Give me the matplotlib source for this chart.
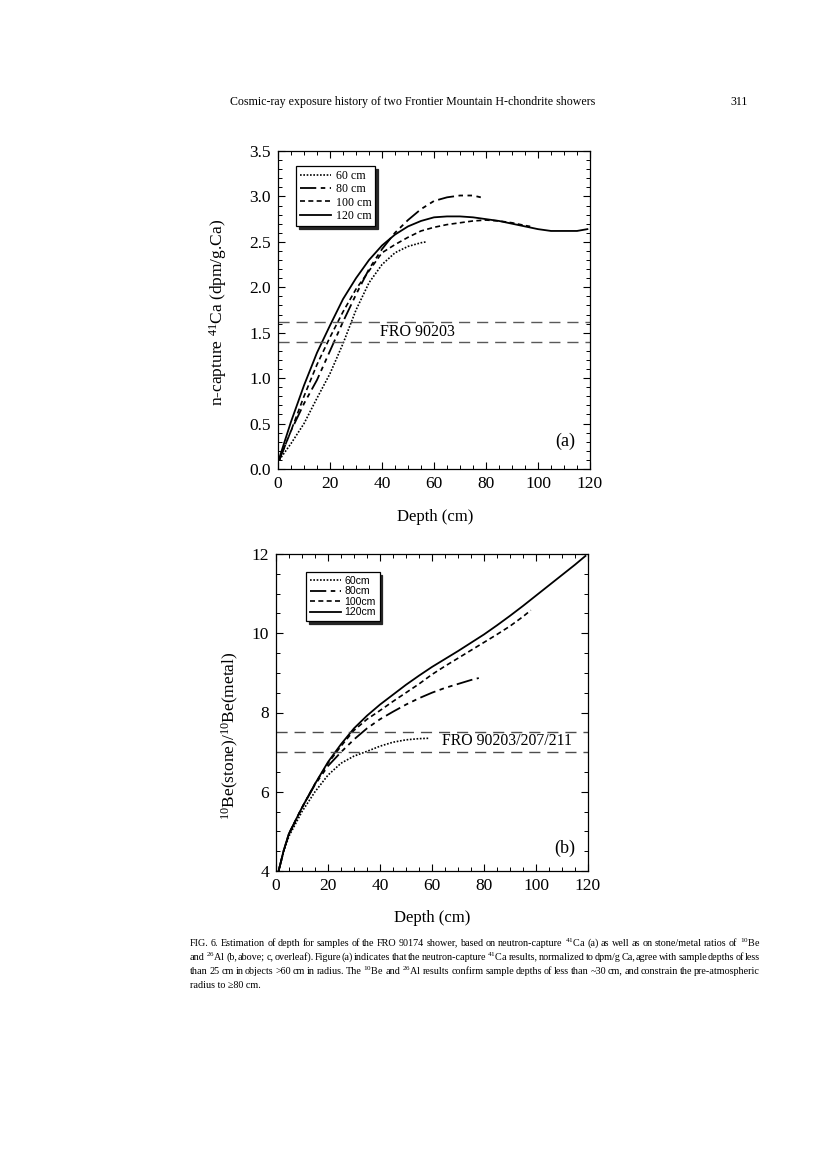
import matplotlib
matplotlib.use("Agg")
import matplotlib.pyplot as plt
from matplotlib.ticker import MultipleLocator, FormatStrFormatter

plt.rcParams['font.family'] = ['Liberation Serif', 'DejaVu Serif']
plt.rcParams['mathtext.fontset'] = 'custom'
plt.rcParams['mathtext.rm'] = 'Liberation Serif'
plt.rcParams['mathtext.it'] = 'Liberation Serif:italic'

# (a) n-capture 41Ca vs depth
a_d60 = [0.5, 5, 10, 15, 20, 25, 30, 35, 40, 45, 50, 55, 57]
a_y60 = [0.1, 0.28, 0.5, 0.78, 1.05, 1.38, 1.75, 2.05, 2.25, 2.38, 2.45, 2.49, 2.5]
a_d80 = [0.5, 5, 10, 15, 20, 25, 30, 35, 40, 45, 50, 55, 60, 65, 70, 75, 78]
a_y80 = [0.1, 0.42, 0.72, 0.98, 1.3, 1.62, 1.92, 2.2, 2.42, 2.6, 2.74, 2.86, 2.95, 2.99, 3.01, 3.01, 2.99]
a_d100 = [0.5, 5, 10, 15, 20, 25, 30, 35, 40, 45, 50, 55, 60, 65, 70, 75, 80, 85, 90, 95, 97]
a_y100 = [0.1, 0.42, 0.8, 1.15, 1.45, 1.73, 1.98, 2.18, 2.38, 2.47, 2.55, 2.62, 2.66, 2.69, 2.71, 2.73, 2.74, 2.73, 2.71, 2.68, 2.67]
a_d120 = [0.5, 5, 10, 15, 20, 25, 30, 35, 40, 45, 50, 55, 60, 65, 70, 75, 80, 85, 90, 95, 100, 105, 110, 115, 119]
a_y120 = [0.12, 0.52, 0.92, 1.28, 1.58, 1.87, 2.1, 2.3, 2.46, 2.58, 2.67, 2.73, 2.77, 2.78, 2.78, 2.77, 2.75, 2.73, 2.70, 2.67, 2.64, 2.62, 2.62, 2.62, 2.64]
a_band = [1.62, 1.40]

# (b) 10Be stone/metal vs depth
b_d60 = [1, 3, 5, 10, 15, 20, 25, 30, 35, 40, 45, 50, 55, 59]
b_y60 = [4.0, 4.5, 4.88, 5.5, 6.0, 6.42, 6.72, 6.9, 7.02, 7.15, 7.25, 7.31, 7.34, 7.35]
b_d80 = [1, 3, 5, 10, 15, 20, 25, 30, 35, 40, 45, 50, 55, 60, 65, 70, 75, 78]
b_y80 = [4.0, 4.52, 4.93, 5.6, 6.18, 6.65, 7.0, 7.32, 7.6, 7.83, 8.02, 8.2, 8.36, 8.5, 8.62, 8.72, 8.82, 8.87]
b_d100 = [1, 3, 5, 10, 15, 20, 25, 30, 35, 40, 45, 50, 55, 60, 65, 70, 75, 80, 85, 90, 95, 98]
b_y100 = [4.0, 4.53, 4.95, 5.6, 6.2, 6.72, 7.15, 7.55, 7.83, 8.05, 8.28, 8.5, 8.72, 8.96, 9.17, 9.37, 9.57, 9.77, 9.97, 10.18, 10.42, 10.58]
b_d120 = [1, 3, 5, 10, 15, 20, 25, 30, 35, 40, 45, 50, 55, 60, 65, 70, 75, 80, 85, 90, 95, 100, 105, 110, 115, 119]
b_y120 = [4.0, 4.53, 4.95, 5.6, 6.2, 6.75, 7.2, 7.6, 7.92, 8.2, 8.45, 8.7, 8.93, 9.15, 9.35, 9.55, 9.76, 9.97, 10.2, 10.44, 10.69, 10.95, 11.21, 11.47, 11.73, 11.95]
b_band = [7.5, 7.0]

styles = {
    '60': dict(linestyle=(0, (1, 1)), lw=1.2),
    '80': dict(linestyle=(0, (9, 2.5, 2.5, 2.5, 2.5, 2.5)), lw=1.3),
    '100': dict(linestyle=(0, (3, 2)), lw=1.2),
    '120': dict(linestyle='-', lw=1.3),
}

fig = plt.figure(figsize=(8.2, 11.55), dpi=100)
fig.patch.set_facecolor('white')

fig.text(0.503, 1 - 102 / 1155, "Cosmic-ray exposure history of two Frontier Mountain H-chondrite showers",
         ha='center', va='center', fontsize=8.6)
fig.text(748 / 820, 1 - 102 / 1155, "311", ha='right', va='center', fontsize=8.6)


def style_axes(ax):
    ax.tick_params(which='both', direction='in', top=True, right=True, labelsize=12.5, pad=5)
    ax.tick_params(which='major', length=5, width=0.8)
    ax.tick_params(which='minor', length=3, width=0.7)
    for s in ax.spines.values():
        s.set_linewidth(0.9)


# ---- panel (a)
ax1 = fig.add_axes([278 / 820, 1 - 469 / 1155, 312 / 820, 318 / 1155])
ax1.plot(a_d60, a_y60, color='k', label='60 cm', **styles['60'])
ax1.plot(a_d80, a_y80, color='k', label='80 cm', **styles['80'])
ax1.plot(a_d100, a_y100, color='k', label='100 cm', **styles['100'])
ax1.plot(a_d120, a_y120, color='k', label='120 cm', **styles['120'])
for v in a_band:
    ax1.axhline(v, color='0.35', lw=1.0, linestyle=(0, (8, 5)))
ax1.text(53.5, 1.51, "FRO 90203", ha='center', va='center', fontsize=11.5)
ax1.text(110.5, 0.3, "(a)", ha='center', va='center', fontsize=13)
ax1.set_xlim(0, 120)
ax1.set_ylim(0, 3.5)
ax1.xaxis.set_major_locator(MultipleLocator(20))
ax1.xaxis.set_minor_locator(MultipleLocator(5))
ax1.yaxis.set_major_locator(MultipleLocator(0.5))
ax1.yaxis.set_minor_locator(MultipleLocator(0.1))
ax1.yaxis.set_major_formatter(FormatStrFormatter('%.1f'))
style_axes(ax1)
leg1 = ax1.legend(loc='upper left', bbox_to_anchor=(0.058, 0.953), borderaxespad=0,
                  fontsize=8.6, handlelength=2.6, handletextpad=0.35, labelspacing=0.1,
                  borderpad=0.35, fancybox=False, edgecolor='k', framealpha=1,
                  shadow={'color': '0.15', 'alpha': 1})
leg1.get_frame().set_linewidth(0.9)
fig.text(435 / 820, 1 - 517 / 1155, "Depth (cm)", ha='center', va='center', fontsize=12)
fig.text(218 / 820, 1 - 312 / 1155, r"n-capture $^{41}$Ca (dpm/g.Ca)", ha='center', va='center',
         rotation=90, fontsize=12.5)

# ---- panel (b)
ax2 = fig.add_axes([276 / 820, 1 - 871 / 1155, 312 / 820, 317 / 1155])
ax2.plot(b_d60, b_y60, color='k', label='60cm', **styles['60'])
ax2.plot(b_d80, b_y80, color='k', label='80cm', **styles['80'])
ax2.plot(b_d100, b_y100, color='k', label='100cm', **styles['100'])
ax2.plot(b_d120, b_y120, color='k', label='120cm', **styles['120'])
for v in b_band:
    ax2.axhline(v, color='0.3', lw=1.0, linestyle=(0, (8, 5)))
ax2.text(89, 7.28, "FRO 90203/207/211", ha='center', va='center', fontsize=11.3)
ax2.text(111, 4.58, "(b)", ha='center', va='center', fontsize=13)
ax2.set_xlim(0, 120)
ax2.set_ylim(4, 12)
ax2.xaxis.set_major_locator(MultipleLocator(20))
ax2.xaxis.set_minor_locator(MultipleLocator(5))
ax2.yaxis.set_major_locator(MultipleLocator(2))
ax2.yaxis.set_minor_locator(MultipleLocator(0.5))
style_axes(ax2)
leg2 = ax2.legend(loc='upper left', bbox_to_anchor=(0.096, 0.943), borderaxespad=0,
                  prop={'family': 'Liberation Sans', 'size': 7.6}, handlelength=3.0,
                  handletextpad=0.3, labelspacing=0.05, borderpad=0.35, fancybox=False,
                  edgecolor='k', framealpha=1, shadow={'color': '0.15', 'alpha': 1})
leg2.get_frame().set_linewidth(0.9)
fig.text(432 / 820, 1 - 918 / 1155, "Depth (cm)", ha='center', va='center', fontsize=12)
fig.text(230 / 820, 1 - 736 / 1155, r"$^{10}$Be(stone)/$^{10}$Be(metal)", ha='center', va='center',
         rotation=90, fontsize=12.5)

# ---- caption (justified lines, last one left aligned)
caption = [
    r"FIG. 6. Estimation of depth for samples of the FRO 90174 shower, based on neutron-capture $^{41}$Ca (a) as well as on stone/metal ratios of $^{10}$Be",
    r"and $^{26}$Al (b, above; c, overleaf). Figure (a) indicates that the neutron-capture $^{41}$Ca results, normalized to dpm/g Ca, agree with sample depths of less",
    r"than 25 cm in objects >60 cm in radius. The $^{10}$Be and $^{26}$Al results confirm sample depths of less than ~30 cm, and constrain the pre-atmospheric",
    "radius to \u226580 cm.",
]
cap_size = 7.3
renderer = fig.canvas.get_renderer()
x_left, x_right = 190, 760
for i, line in enumerate(caption):
    y = 1 - (943 + 14 * i) / 1155
    if i == len(caption) - 1:
        fig.text(x_left / 820, y, line, ha='left', va='center', fontsize=cap_size)
        continue
    words = line.split()
    texts = [fig.text(0, y, w, ha='left', va='center', fontsize=cap_size) for w in words]
    widths = [t.get_window_extent(renderer).width for t in texts]
    gap = (x_right - x_left - sum(widths)) / (len(words) - 1)
    x = x_left
    for t, w in zip(texts, widths):
        t.set_x(x / 820)
        x += w + gap

fig.savefig("out.png", dpi=100, facecolor='white')
